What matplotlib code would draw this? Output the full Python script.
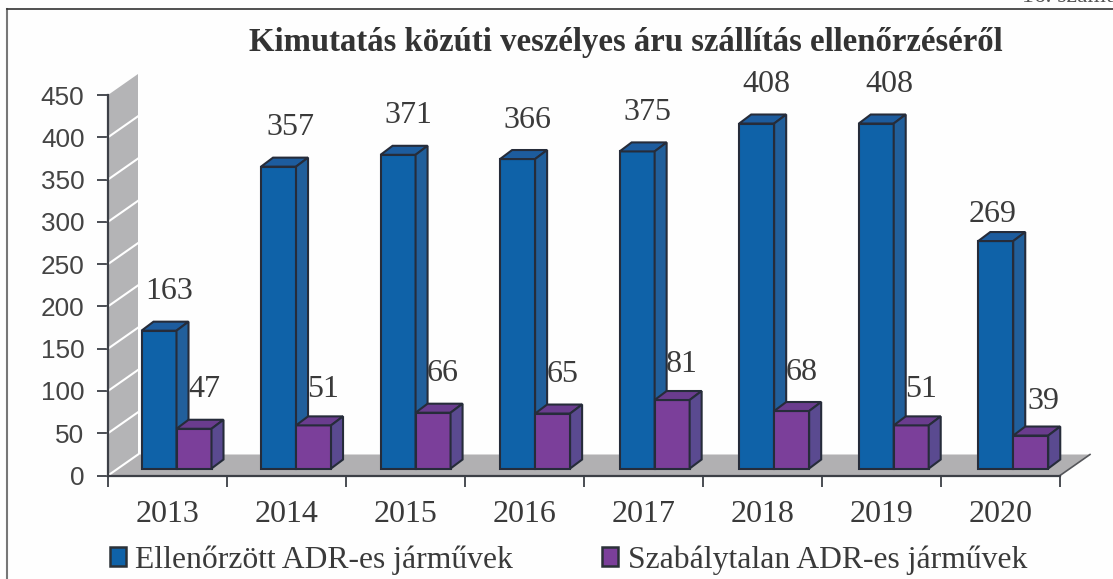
import matplotlib
matplotlib.use("Agg")
import matplotlib.pyplot as plt
from matplotlib.lines import Line2D
from matplotlib.patches import Patch, Polygon

years = ["2013", "2014", "2015", "2016", "2017", "2018", "2019", "2020"]
checked = [163, 357, 371, 366, 375, 408, 408, 269]
irregular = [47, 51, 66, 65, 81, 68, 51, 39]
y_ticks = [0, 50, 100, 150, 200, 250, 300, 350, 400, 450]

SERIF = "Liberation Serif"
SANS = "Liberation Sans"
TEXT = "#3a3a3a"
EDGE = "#262c3a"

BLUE = ("#0f62a8", "#1d5c9e", "#215f9b")     # front, top, side
PURPLE = ("#7b3f9a", "#6a3c8e", "#5a4a90")

W, H = 1113, 579
AX_L, AX_R, AX_B, AX_T = 108, 1060, 475.5, 95

# pixel sizes turned into data units
PX_X = 8 / (AX_R - AX_L)
PX_Y = 450 / (AX_B - AX_T)
WALL_DX, WALL_DY = 30 * PX_X, 21 * PX_Y
BAR_DX, BAR_DY = 12 * PX_X, 9 * PX_Y
BAR_W = 35 * PX_X
BAR_LEFT = 33.5 * PX_X
BAR_BASE = 7 * PX_Y
SLOT = 1.0045

# hand placed labels in the original: pixel nudges (right, up)
blue_nudge = {1: (2, 0), 6: (3, 0), 7: (-13, -12)}
purple_nudge = {1: (0, -3), 4: (0, -3), 6: (0, -3), 7: (3, -5)}


def px(x, y):
    return x / W, 1 - y / H


def bar_3d(ax, x, value, colors, z):
    y0, y1 = BAR_BASE, BAR_BASE + value
    front = [(x, y0), (x + BAR_W, y0), (x + BAR_W, y1), (x, y1)]
    top = [(x, y1), (x + BAR_W, y1), (x + BAR_W + BAR_DX, y1 + BAR_DY), (x + BAR_DX, y1 + BAR_DY)]
    side = [(x + BAR_W, y0), (x + BAR_W + BAR_DX, y0 + BAR_DY),
            (x + BAR_W + BAR_DX, y1 + BAR_DY), (x + BAR_W, y1)]
    for pts, col in zip((front, top, side), colors):
        ax.add_patch(Polygon(pts, closed=True, facecolor=col, edgecolor=EDGE,
                             linewidth=1.5, zorder=z, clip_on=False))


def value_label(ax, x, y, value, nudge):
    ax.text(x + nudge[0] * PX_X, y + nudge[1] * PX_Y, str(value), family=SERIF, fontsize=23,
            color=TEXT, ha="center", va="center", zorder=30)


fig = plt.figure(figsize=(W / 100, H / 100), dpi=100, facecolor="#fefefe")
ax = fig.add_axes([AX_L / W, 1 - AX_B / H, (AX_R - AX_L) / W, (AX_B - AX_T) / H])
ax.set_xlim(0, 8)
ax.set_ylim(0, 450)
ax.patch.set_alpha(0)
for s in ("top", "right"):
    ax.spines[s].set_visible(False)
for s in ("left", "bottom"):
    ax.spines[s].set_color("#3c3f46")
    ax.spines[s].set_linewidth(1.6)
    ax.spines[s].set_zorder(20)

# wall and floor
ax.add_patch(Polygon([(0, 0), (WALL_DX, WALL_DY), (WALL_DX, 450 + WALL_DY), (0, 450)],
                     closed=True, facecolor="#b4b4b6", edgecolor="none", zorder=1, clip_on=False))
ax.add_patch(Polygon([(0, 0), (8, 0), (8 + WALL_DX, WALL_DY), (WALL_DX, WALL_DY)],
                     closed=True, facecolor="#b1b0b2", edgecolor="none", zorder=1, clip_on=False))
ax.plot([8, 8 + WALL_DX], [0, WALL_DY], color="#55565a", lw=1.2, zorder=2, clip_on=False)
for t in y_ticks[:-1]:
    ax.plot([0, WALL_DX], [t, t + WALL_DY], color="white", lw=1.5, zorder=2, clip_on=False)

for i, (a, b) in enumerate(zip(checked, irregular)):
    x = i * SLOT + BAR_LEFT
    bar_3d(ax, x, a, BLUE, 5 + i * 2)
    bar_3d(ax, x + BAR_W, b, PURPLE, 6 + i * 2)
    value_label(ax, x + BAR_W / 2 + 10 * PX_X, BAR_BASE + a + 39 * PX_Y, a, blue_nudge.get(i, (0, 0)))
    value_label(ax, x + BAR_W * 1.5 + 10 * PX_X, BAR_BASE + b + 39 * PX_Y, b, purple_nudge.get(i, (0, 0)))

ax.set_yticks(y_ticks)
ax.set_yticklabels([str(t) for t in y_ticks], family=SANS, fontsize=18.8, color="#444444")
ax.set_xticks(range(9))
ax.set_xticklabels([])
ax.tick_params(axis="both", length=8, width=1.3, color="#3c3f46")
ax.tick_params(axis="y", pad=9)

for i, year in enumerate(years):
    ax.text(i + 0.5, -(515 - AX_B) / (AX_B - AX_T), year, family=SERIF, fontsize=23, color=TEXT,
            ha="center", va="center", transform=ax.get_xaxis_transform(), zorder=30)

fig.text(*px(626, 43), "Kimutatás közúti veszélyes áru szállítás ellenőrzéséről", family=SERIF,
         fontsize=23.6, fontweight="bold", color="#333333", ha="center", va="center")

handles = [Patch(facecolor=BLUE[0], edgecolor="#2b3138", linewidth=1.8),
           Patch(facecolor=PURPLE[0], edgecolor="#2b3138", linewidth=1.8)]
fig.legend(handles, ["Ellenőrzött ADR-es járművek", "Szabálytalan ADR-es járművek"],
           loc="center left", bbox_to_anchor=px(110, 560), ncol=2, frameon=False,
           prop={"family": SERIF, "size": 22.8}, labelcolor=TEXT, handlelength=0.5,
           handleheight=0.55, handletextpad=0.3, columnspacing=2.81, borderpad=0, borderaxespad=0)

# frame of the scanned page, cropped on the right and at the bottom
fig.add_artist(Line2D([7 / W, 7 / W], [0, 1 - 9 / H], color="#777777", lw=1.5))
fig.add_artist(Line2D([7 / W, 1], [1 - 9 / H, 1 - 9 / H], color="#333333", lw=1.2))
fig.text(*px(1022, 2), "16. számú melléklet", family=SERIF, fontsize=17, color="#555555",
         ha="left", va="baseline")

fig.savefig("out.png", dpi=100, facecolor=fig.get_facecolor())
